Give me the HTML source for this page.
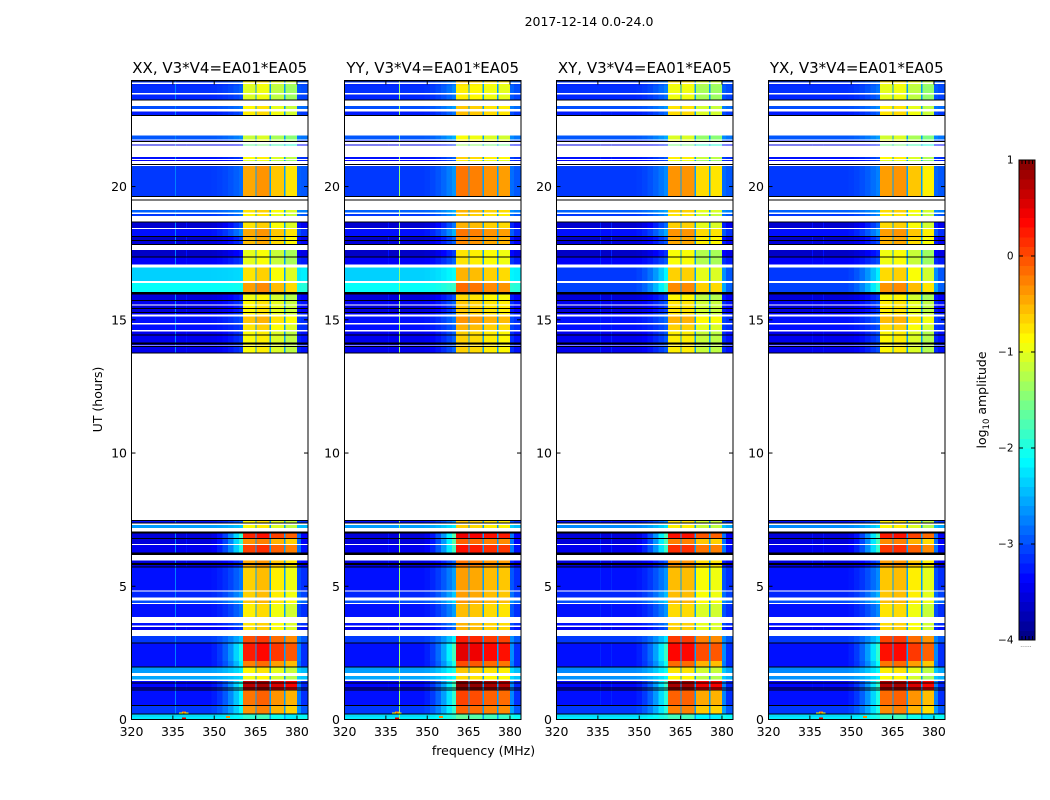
<!DOCTYPE html>
<html lang="en">
<head>
<meta charset="utf-8">
<title>2017-12-14 dynamic spectra</title>
<style>
html,body{margin:0;padding:0;background:#fff;}
svg{display:block;font-family:"DejaVu Sans","Liberation Sans",sans-serif;fill:#000;}
</style>
</head>
<body>
<svg id="figure" width="1050" height="800" viewBox="0 0 1050 800" xmlns="http://www.w3.org/2000/svg">
  <text x="589" y="26" text-anchor="middle" font-size="12.5">2017-12-14 0.0-24.0</text>
  <text transform="translate(102,399.5) rotate(-90)" text-anchor="middle" font-size="12.5">UT (hours)</text>
  <text x="483.5" y="755" text-anchor="middle" font-size="12.5">frequency (MHz)</text>
  <g id="panels"></g>
  <g id="colorbar"></g>
  <text transform="translate(986,400) rotate(-90)" text-anchor="middle" font-size="12.5">log<tspan font-size="8.5" dy="3">10</tspan><tspan dy="-3"> amplitude</tspan></text>
</svg>
<script>
// ---- chart data (log10 amplitude, UT hours, MHz) ----
const panelTitles = ["XX, V3*V4=EA01*EA05", "YY, V3*V4=EA01*EA05", "XY, V3*V4=EA01*EA05", "YX, V3*V4=EA01*EA05"];
const freqTicks = [320, 335, 350, 365, 380];
const utTicks = [0, 5, 10, 15, 20];
const colorbarTicks = [1, 0, -1, -2, -3, -4];

// observed scan blocks, top of the plot to the bottom; gaps between them stay white
const blockStartUT = [23.90,23.79,23.51,23.23,22.91,22.66,21.76,21.69,21.54,21.04,20.96,19.64,19.47,19.02,18.90,18.45,18.13,17.98,17.82,17.35,17.08,16.46,16.03,15.73,15.58,15.27,15.19,14.88,14.61,14.11,14.03,13.73,7.38,7.19,6.99,6.78,6.59,6.19,5.71,4.85,4.58,4.38,3.85,3.53,3.35,2.88,2.20,1.97,1.75,1.51,1.11,0.54,0.21,0.09,0.00];
const blockEndUT   = [23.96,23.85,23.79,23.46,23.02,22.82,21.91,21.72,21.58,21.10,21.00,20.78,19.51,19.12,18.97,18.67,18.40,18.13,17.98,17.61,17.35,16.97,16.39,15.96,15.73,15.53,15.27,15.13,14.83,14.57,14.11,14.01,7.49,7.30,7.05,6.99,6.78,6.54,5.96,5.71,4.81,4.46,4.34,3.62,3.48,3.13,2.88,2.20,1.97,1.64,1.44,1.11,0.54,0.21,0.09];
const lowLevels    = [-3.1,-3.2,-3.15,-3.2,-3.0,-3.25,-2.95,-3.3,-3.5,-3.3,-3.4,-3.1,-3.3,-2.9,-3.1,-3.6,-3.3,-3.65,-3.55,-3.65,-3.4,-2.35,-2.1,-3.55,-3.45,-3.55,-3.4,-3.3,-3.3,-3.45,-3.4,-3.45,-3.3,-2.6,-3.3,-3.55,-3.55,-3.45,-3.55,-3.3,-3.2,-3.0,-3.3,-3.3,-3.45,-3.1,-3.3,-3.3,-2.6,-2.55,-3.35,-3.3,-3.1,-2.3,-2.2];
const crossLowLevels = [-3.1,-3.2,-3.15,-3.2,-3.0,-3.25,-2.95,-3.3,-3.5,-3.3,-3.4,-3.1,-3.3,-2.9,-3.1,-3.6,-3.3,-3.65,-3.55,-3.65,-3.4,-3.1,-3.05,-3.55,-3.45,-3.55,-3.4,-3.3,-3.3,-3.45,-3.4,-3.45,-3.3,-2.7,-3.3,-3.55,-3.55,-3.45,-3.55,-3.3,-3.2,-3.0,-3.3,-3.3,-3.45,-3.1,-3.3,-3.3,-2.7,-2.65,-3.35,-3.3,-3.1,-2.3,-2.2];
const edgeLevels   = [-2.9,-3.0,-2.9,-3.0,-2.8,-3.0,-2.7,-3.1,-3.3,-3.1,-3.2,-2.85,-3.1,-2.7,-2.8,-3.0,-2.7,-3.1,-3.1,-3.3,-3.1,-2.3,-2.05,-3.2,-3.1,-3.2,-3.1,-3.0,-3.1,-3.1,-3.1,-3.1,-2.9,-2.4,-2.7,-1.9,-1.9,-2.0,-3.1,-2.8,-2.6,-2.5,-2.8,-2.9,-3.1,-2.4,-2.0,-2.2,-2.2,-2.3,-2.0,-2.1,-2.1,-2.1,-2.1];
const hotLevels    = [-0.8,-1.0,-1.05,-1.05,-0.85,-0.8,-1.15,-1.05,-1.6,-0.9,-1.05,-0.45,-0.9,-0.75,-0.85,-0.75,-0.45,-0.55,-0.55,-1.0,-1.0,-0.75,-0.4,-0.95,-0.85,-0.85,-0.85,-0.6,-0.75,-0.9,-0.9,-0.9,-0.85,-0.9,-0.7,0.2,-0.35,0.05,-0.45,-0.65,-0.65,-0.6,-0.8,-0.75,-0.75,0.0,0.25,-0.25,-0.85,-0.95,0.7,-0.2,-0.35,-1.9,-1.9];

// per-panel adjustments to the four subband levels: XX, YY, XY, YX
const subband0Offsets = [0.00, 0.25, 0.10, 0.05];
const subband1Offsets = [0.10, 0.20, 0.10, 0.10];
const subband2Offsets = [-0.15, 0.10, -0.25, -0.15];
const subband3Offsets = [-0.30, 0.05, -0.30, -0.35];
const edgeOffsets = [0.0, 0.2, 0.15, 0.1];
const spurA = [-2.75, -3.3, -3.2, -3.3];
const spurB = [-3.3, -1.4, -3.2, -3.3];

// frequency channels: lower edge, upper edge in MHz
const channelStartMHz = [320,335.7,336.1,339.7,340.1,349,351,353,355,357,359,360.5,364.9,365.4,370,370.5,375.3,375.8,380,381.5];
const channelEndMHz   = [335.7,336.1,339.7,340.1,349,351,353,355,357,359,360.5,364.9,365.4,370,370.5,375.3,375.8,380,381.5,384];
const channelKinds    = ["low","spurA","low","spurB","low","e","e","e","e","e","e","s0","gap","s1","gap","s2","gap","s3","near","far"];
const edgeWeights     = [0,0,0,0,0,0.05,0.15,0.3,0.5,0.75,1,0,0,0,0,0,0,0,0,0];

// scans flagged to zero, drawn as black rows
const flaggedScansUT = [23.96,23.24,22.67,21.70,20.82,19.62,19.50,18.67,18.12,17.98,17.83,17.35,16.03,16.00,15.97,15.73,15.43,15.28,14.42,14.12,14.09,13.99,13.75,7.47,7.38,7.04,7.00,6.80,6.24,6.21,6.19,5.85,5.82,5.72,2.87,1.97,1.37,1.19,1.11,0.53,0.21];
// hot single-channel spots near the bottom of the panels
const spotMHz = [339, 338, 340, 339, 355];
const spotUT = [0.27, 0.23, 0.23, 0.04, 0.10];
const spotLevels = [-0.2, -0.9, -0.9, 0.6, -0.3];
const colorbarSteps = [-4,-3.9,-3.8,-3.7,-3.6,-3.5,-3.4,-3.3,-3.2,-3.1,-3,-2.9,-2.8,-2.7,-2.6,-2.5,-2.4,-2.3,-2.2,-2.1,-2,-1.9,-1.8,-1.7,-1.6,-1.5,-1.4,-1.3,-1.2,-1.1,-1,-0.9,-0.8,-0.7,-0.6,-0.5,-0.4,-0.3,-0.2,-0.1,0,0.1,0.2,0.3,0.4,0.5,0.6,0.7,0.8,0.9];

// ---- layout ----
const NS = "http://www.w3.org/2000/svg";
const panelLeft = [131.5, 344.5, 556.5, 768.5];
const panelWidth = 176.5;
const plotTop = 80.5, plotBottom = 719.5;
const freqMin = 320, freqMax = 384, utMin = 0, utMax = 23.98;
const barLeft = 1019, barRight = 1035, barTop = 160, barBottom = 640;

function xScale(p, mhz) { return panelLeft[p] + (mhz - freqMin) / (freqMax - freqMin) * panelWidth; }
function yScale(ut) { return plotBottom - (ut - utMin) / (utMax - utMin) * (plotBottom - plotTop); }
function barScale(v) { return barBottom - (v + 4) / 5 * (barBottom - barTop); }
function clamp01(x) { return Math.max(0, Math.min(1, x)); }
function jet(v) {
  const t = clamp01((v + 4) / 5);
  const r = clamp01(1.5 - Math.abs(4 * t - 3));
  const g = clamp01(1.5 - Math.abs(4 * t - 2));
  const b = clamp01(1.5 - Math.abs(4 * t - 1));
  return "rgb(" + Math.round(r * 255) + "," + Math.round(g * 255) + "," + Math.round(b * 255) + ")";
}
function make(tag, attrs, parent) {
  const el = document.createElementNS(NS, tag);
  for (const k in attrs) el.setAttribute(k, attrs[k]);
  parent.appendChild(el);
  return el;
}
function cellLevel(p, b, c) {
  const cross = p >= 2;
  const low = cross ? crossLowLevels[b] : lowLevels[b];
  const edge = edgeLevels[b] + edgeOffsets[p];
  const hot = hotLevels[b];
  switch (channelKinds[c]) {
    case "spurA": return Math.max(low, spurA[p]);
    case "spurB": return Math.max(low, spurB[p]);
    case "e": return low + edgeWeights[c] * (edge - low);
    case "s0": return hot + subband0Offsets[p];
    case "s1": return hot + subband1Offsets[p];
    case "s2": return hot + subband2Offsets[p];
    case "s3": return hot + subband3Offsets[p];
    case "gap": return Math.min(hot, -2.6);
    case "near": return low + 0.35 * (edge - low) + 0.1;
    case "far": return low + 0.15;
    default: return low;
  }
}

const panelsGroup = document.getElementById("panels");
panelTitles.forEach(function (title, p) {
  const g = make("g", {}, panelsGroup);
  
  

  const cells = make("g", { "shape-rendering": "crispEdges" }, g);
  
  
  blockStartUT.forEach(function (start, b) {
    channelStartMHz.forEach(function (f0, c) {
      const x0 = xScale(p, f0), x1 = xScale(p, channelEndMHz[c]);
      const y0 = yScale(blockEndUT[b]), y1 = yScale(start);
      const cell = make("rect", { x: x0, y: y0, width: x1 - x0, height: y1 - y0, fill: jet(cellLevel(p, b, c)) }, cells);
      
      
    });
  });

  if (p !== 2) {
    spotMHz.forEach(function (f, i) {
      const spot = make("rect", { x: xScale(p, f) - 2, y: yScale(spotUT[i]) - 1, width: 4, height: 2, fill: jet(spotLevels[i]), "shape-rendering": "crispEdges" }, g);
      
      
    });
  }

  flaggedScansUT.forEach(function (ut) {
    const row = make("rect", { x: panelLeft[p], y: yScale(ut) - 0.5, width: panelWidth, height: 1, fill: "#000", "shape-rendering": "crispEdges" }, g);
    
    
  });

  const frame = make("rect", { x: panelLeft[p], y: plotTop, width: panelWidth, height: plotBottom - plotTop, fill: "none", stroke: "#000", "stroke-width": 1 }, g);
  
  

  const head = make("text", { x: panelLeft[p] + panelWidth / 2, y: 73, "text-anchor": "middle", "font-size": 15 }, g);
  
  
  head.textContent = title;

  freqTicks.forEach(function (f) {
    const x = xScale(p, f);
    const t1 = make("line", { x1: x, x2: x, y1: plotBottom, y2: plotBottom - 4, stroke: "#000" }, g);
    
    
    const t2 = make("line", { x1: x, x2: x, y1: plotTop, y2: plotTop + 4, stroke: "#000" }, g);
    
    
    const lab = make("text", { x: x, y: 736, "text-anchor": "middle", "font-size": 12.5 }, g);
    
    
    lab.textContent = f;
  });

  utTicks.forEach(function (u) {
    const y = yScale(u);
    const t1 = make("line", { x1: panelLeft[p], x2: panelLeft[p] + 4, y1: y, y2: y, stroke: "#000" }, g);
    
    
    const t2 = make("line", { x1: panelLeft[p] + panelWidth, x2: panelLeft[p] + panelWidth - 4, y1: y, y2: y, stroke: "#000" }, g);
    
    
    const lab = make("text", { x: panelLeft[p] - 4.5, y: y + 4.5, "text-anchor": "end", "font-size": 12.5 }, g);
    
    
    lab.textContent = u;
  });
});

// ---- colorbar ----
const cb = document.getElementById("colorbar");
const stepSize = colorbarSteps[1] - colorbarSteps[0];
colorbarSteps.forEach(function (v) {
  const y0 = barScale(v + stepSize), y1 = barScale(v);
  const swatch = make("rect", { x: barLeft, y: y0, width: barRight - barLeft, height: y1 - y0 + 0.5, fill: jet(v + stepSize / 2), "shape-rendering": "crispEdges" }, cb);
  
  
});
const cbFrame = make("rect", { x: barLeft, y: barTop, width: barRight - barLeft, height: barBottom - barTop, fill: "none", stroke: "#000" }, cb);


colorbarTicks.forEach(function (v) {
  const y = barScale(v);
  const tl = make("line", { x1: barLeft, x2: barLeft + 4, y1: y, y2: y, stroke: "#000" }, cb);
  
  
  const tr = make("line", { x1: barRight, x2: barRight - 4, y1: y, y2: y, stroke: "#000" }, cb);
  
  
  const lab = make("text", { x: 1013.5, y: y + 3.5, "text-anchor": "end", "font-size": 10.5 }, cb);
  
  
  lab.textContent = v < 0 ? "\u2212" + Math.abs(v) : String(v);
});
[1022, 1025.5, 1029, 1032.5].forEach(function (x) {
  const topTick = make("line", { x1: x, x2: x, y1: barTop, y2: barTop + 4, stroke: "#000" }, cb);
  
  
  const botTick = make("line", { x1: x, x2: x, y1: barBottom, y2: barBottom - 4, stroke: "#000" }, cb);
  
  
});
const dots = make("text", { x: 1026, y: 647, "text-anchor": "middle", "font-size": 6, fill: "#555" }, cb);


dots.textContent = "......";
</script>
</body>
</html>
